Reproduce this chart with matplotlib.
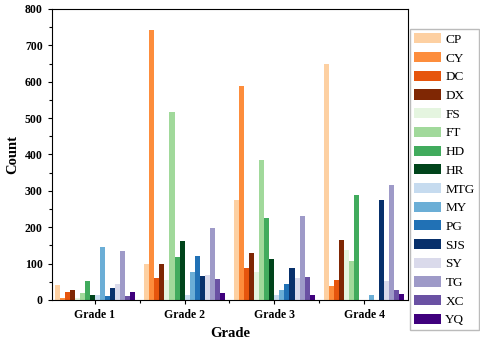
import numpy as np
import matplotlib.pyplot as plt
from matplotlib.ticker import MultipleLocator, FixedLocator

plt.rcParams['font.family'] = ['Liberation Serif', 'DejaVu Serif']

grades = ['Grade 1', 'Grade 2', 'Grade 3', 'Grade 4']
names = ['CP', 'CY', 'DC', 'DX', 'FS', 'FT', 'HD', 'HR',
         'MTG', 'MY', 'PG', 'SJS', 'SY', 'TG', 'XC', 'YQ']

# counts per grade for each name
CP = [41, 98, 275, 649]
CY = [6, 741, 589, 39]
DC = [21, 60, 87, 54]
DX = [28, 99, 128, 165]
FS = [6, 55, 77, 138]
FT = [18, 516, 385, 106]
HD = [52, 118, 226, 289]
HR = [14, 162, 113, 0]
MTG = [13, 15, 14, 0]
MY = [146, 78, 28, 15]
PG = [10, 121, 45, 0]
SJS = [33, 66, 89, 275]
SY = [45, 68, 61, 52]
TG = [134, 199, 232, 316]
XC = [11, 58, 64, 28]
YQ = [22, 20, 13, 17]

values = [CP, CY, DC, DX, FS, FT, HD, HR, MTG, MY, PG, SJS, SY, TG, XC, YQ]
colors = ['#fdd0a2', '#fd8d3c', '#e6550d', '#7f2704',
          '#e5f5e0', '#a1d99b', '#41ab5d', '#00441b',
          '#c6dbef', '#6baed6', '#2171b5', '#08306b',
          '#dadaeb', '#9e9ac8', '#6a51a3', '#3f007d']

fig = plt.figure(figsize=(4.8, 3.46), dpi=100)
ax = fig.add_axes([0.108, 0.133, 0.742, 0.841])

x = np.arange(len(grades))
w = 0.9 / len(names)
for i, (name, vals, c) in enumerate(zip(names, values, colors)):
    ax.bar(x - 0.45 + w * (i + 0.5), vals, width=w, color=c, label=name)

ax.set_xlim(-0.48, 3.49)
ax.set_ylim(0, 800)
ax.set_xticks(x)
ax.set_xticklabels(grades, fontweight='bold', fontsize=8.5)
ax.xaxis.set_minor_locator(FixedLocator([0.5, 1.5, 2.5]))
ax.yaxis.set_major_locator(MultipleLocator(100))
ax.yaxis.set_minor_locator(MultipleLocator(50))
for lab in ax.get_yticklabels():
    lab.set_fontweight('bold')
    lab.set_fontsize(8.5)
ax.tick_params(direction='out', length=3, width=0.8)
ax.tick_params(which='minor', direction='out', length=2, width=0.8)
ax.set_xlabel('Grade', fontweight='bold', fontsize=10.5)
ax.set_ylabel('Count', fontweight='bold', fontsize=10.5)

ax.legend(loc='upper left', bbox_to_anchor=(1.005, 0.93), fontsize=9.5,
          frameon=True, fancybox=False, edgecolor='#aaaaaa',
          handlelength=2.1, handleheight=0.8, labelspacing=0.46,
          borderpad=0.3, handletextpad=0.3, borderaxespad=0)

fig.savefig('out.png', dpi=100)
